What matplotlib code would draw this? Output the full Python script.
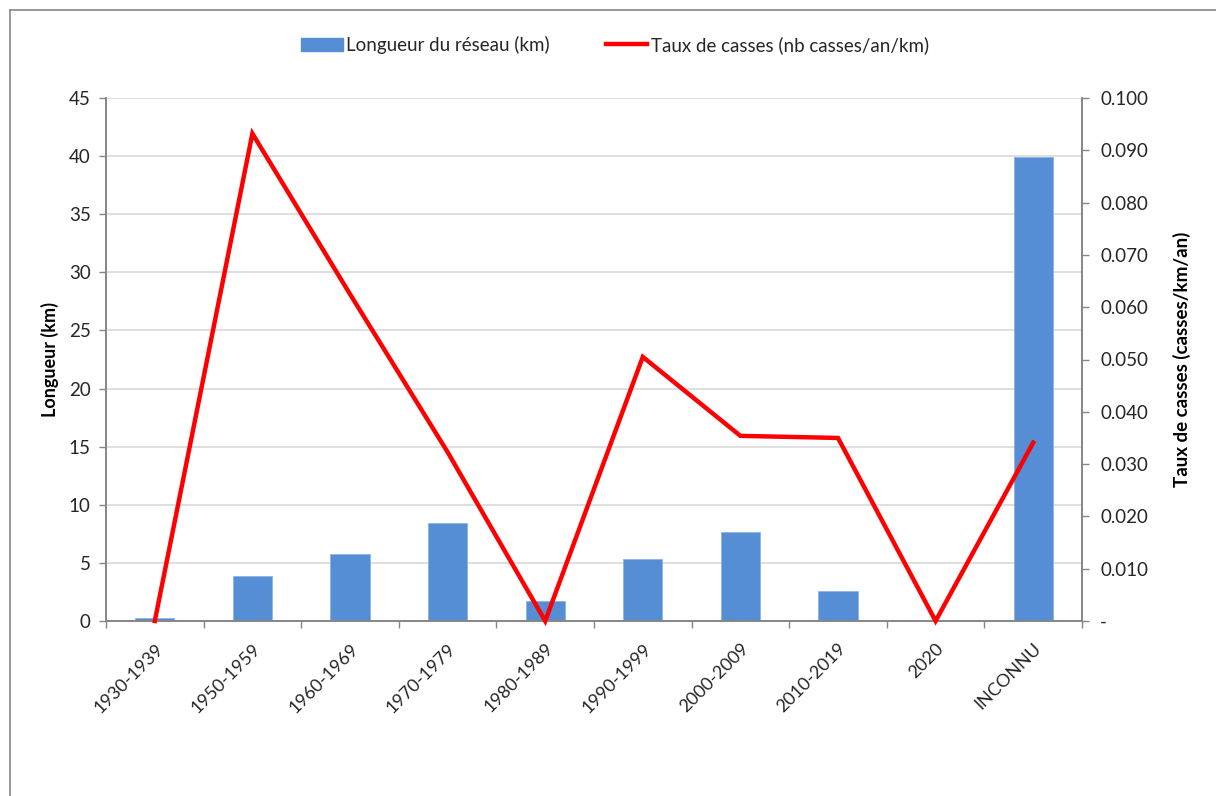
import matplotlib.pyplot as plt
from matplotlib.lines import Line2D
from matplotlib.patches import Patch
from matplotlib.ticker import FuncFormatter, MultipleLocator

plt.rcParams["font.family"] = ["Lato", "DejaVu Sans"]

periods = [
    "1930-1939",
    "1950-1959",
    "1960-1969",
    "1970-1979",
    "1980-1989",
    "1990-1999",
    "2000-2009",
    "2010-2019",
    "2020",
    "INCONNU",
]
longueur_km = [0.25, 3.9, 5.8, 8.4, 1.7, 5.35, 7.65, 2.6, 0.0, 39.9]
taux_casses = [0.0, 0.0932, 0.0625, 0.0323, 0.0, 0.0505, 0.0354, 0.0350, 0.0, 0.0341]

bar_color = "#558ED5"
line_color = "#FF0000"
axis_color = "#868686"
grid_color = "#D9D9D9"
text_color = "#262626"


def rate_fmt(v, pos):
    return "-" if abs(v) < 1e-9 else f"{v:.3f}"


def main() -> None:
    fig = plt.figure(figsize=(12.16, 7.96), dpi=100)
    ax = fig.add_axes([106 / 1216, 1 - 621 / 796, (1082 - 106) / 1216, (621 - 98) / 796])
    ax2 = ax.twinx()

    x = list(range(len(periods)))
    ax.bar(x, longueur_km, width=0.4, color=bar_color, edgecolor="#8DB3E2",
           linewidth=0.6, zorder=2)
    ax2.plot(x, taux_casses, color=line_color, linewidth=3.2, clip_on=False,
             solid_joinstyle="miter", zorder=3)

    ax.set_xlim(-0.5, len(periods) - 0.5)
    ax.set_ylim(0, 45)
    ax2.set_ylim(0, 0.1)
    ax.yaxis.set_major_locator(MultipleLocator(5))
    ax2.yaxis.set_major_locator(MultipleLocator(0.01))
    ax2.yaxis.set_major_formatter(FuncFormatter(rate_fmt))

    ax.yaxis.grid(True, color=grid_color, linewidth=1.2, zorder=0)
    ax.set_axisbelow(True)

    # category ticks sit on the boundaries between periods
    ax.set_xticks([i - 0.5 for i in range(len(periods) + 1)], minor=False)
    ax.set_xticklabels([])
    ax.set_xticks(x, minor=True)
    ax.set_xticklabels(periods, minor=True, rotation=45, ha="right",
                       rotation_mode="anchor", fontsize=13, color=text_color)
    ax.tick_params(axis="x", which="minor", length=0, pad=14)
    ax.tick_params(axis="x", which="major", length=5, color=axis_color, width=1)

    ax.tick_params(axis="y", length=5, color=axis_color, width=1,
                   labelsize=13.5, labelcolor=text_color, pad=6)
    ax2.tick_params(axis="y", length=5, color=axis_color, width=1,
                    labelsize=13.5, labelcolor=text_color, pad=8)

    for a in (ax, ax2):
        a.spines["top"].set_visible(False)
        for side in ("left", "right", "bottom"):
            a.spines[side].set_color(axis_color)
            a.spines[side].set_linewidth(1.2)

    ax.set_ylabel("Longueur (km)", fontsize=13, fontweight="bold",
                  color="black", labelpad=7)
    ax2.set_ylabel("Taux de casses (casses/km/an)", fontsize=13.5,
                   fontweight="bold", color="black", labelpad=18)

    handles = [
        Patch(facecolor=bar_color, edgecolor=bar_color),
        Line2D([0], [0], color=line_color, linewidth=3.2),
    ]
    fig.legend(handles, ["Longueur du réseau (km)", "Taux de casses (nb casses/an/km)"],
               loc="center", bbox_to_anchor=(0.506, 1 - 45 / 796), ncol=2,
               frameon=False, fontsize=13.5, handlelength=2.2, handletextpad=0.2,
               columnspacing=3.0, labelcolor=text_color)

    # outer chart frame
    fig.add_artist(Line2D([10 / 1216, 1.0], [1 - 10 / 796, 1 - 10 / 796],
                          transform=fig.transFigure, color=axis_color, linewidth=1.2))
    fig.add_artist(Line2D([10 / 1216, 10 / 1216], [0.0, 1 - 10 / 796],
                          transform=fig.transFigure, color=axis_color, linewidth=1.2))

    fig.savefig("out.png", dpi=100)


if __name__ == "__main__":
    main()
